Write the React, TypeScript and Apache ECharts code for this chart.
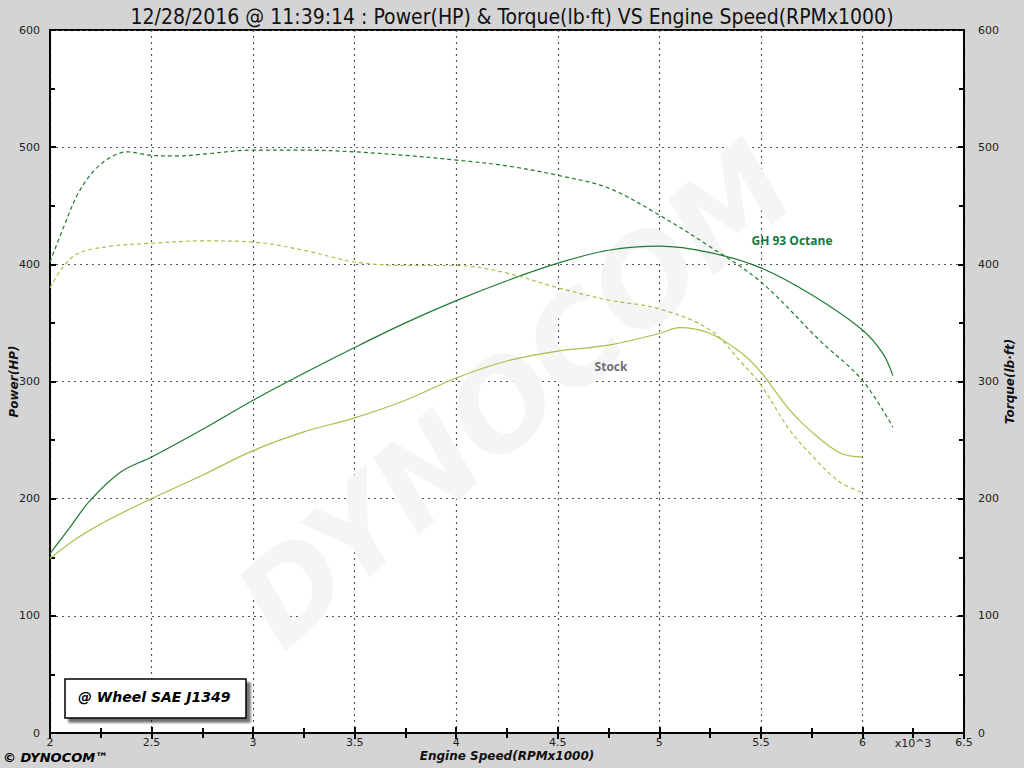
import React, { useEffect, useRef } from "react";
import * as echarts from "echarts";

const TITLE = "12/28/2016 @ 11:39:14 : Power(HP) & Torque(lb·ft) VS Engine Speed(RPMx1000)";
const X_NAME = "Engine Speed(RPMx1000)";
const Y_LEFT_NAME = "Power(HP)";
const Y_RIGHT_NAME = "Torque(lb·ft)";

const ghPowerRpm = [2.0, 2.1, 2.2, 2.35, 2.5, 2.75, 3.0, 3.25, 3.5, 3.75, 4.0, 4.25, 4.5, 4.75, 5.0, 5.25, 5.5, 5.75, 6.0, 6.1, 6.15];
const ghPower = [153, 176, 199, 223, 235.5, 259, 284, 307, 329, 350, 369, 386, 401, 412, 415.5, 410, 397, 374, 344, 324, 305];

const ghTorqueRpm = [2.0, 2.07, 2.14, 2.22, 2.3, 2.38, 2.5, 2.63, 2.75, 3.0, 3.25, 3.5, 3.75, 4.0, 4.25, 4.5, 4.75, 5.0, 5.25, 5.5, 5.79, 6.0, 6.15];
const ghTorque = [402, 433, 461, 480.5, 491.5, 496, 493, 492.5, 494, 497.5, 497.5, 496, 493, 489, 484, 476, 465, 442, 415, 385, 335, 301, 261];

const stockPowerRpm = [2.0, 2.14, 2.3, 2.5, 2.75, 3.0, 3.25, 3.5, 3.75, 4.0, 4.25, 4.5, 4.75, 5.0, 5.1, 5.25, 5.4, 5.5, 5.64, 5.75, 5.89, 6.0];
const stockPower = [149, 167, 183, 200, 220, 241, 257, 269, 284, 303, 317.5, 326, 331, 341, 346, 341, 325, 308, 276, 257, 239, 235.5];

const stockTorqueRpm = [2.0, 2.07, 2.14, 2.3, 2.5, 2.75, 3.0, 3.25, 3.5, 3.75, 4.0, 4.25, 4.5, 4.75, 5.0, 5.25, 5.4, 5.5, 5.64, 5.75, 5.89, 6.0];
const stockTorque = [380, 399, 409.5, 415.5, 418, 420, 419, 412, 402, 399, 399, 392.5, 380, 369.5, 362, 344, 317, 297, 259, 237, 214, 205.5];

const RUN_LABELS = ["GH 93 Octane", "Stock"];
const LEGEND_TEXT = "@ Wheel SAE J1349";

const GH_COLOR = "#1e7a32";
const STOCK_COLOR = "#a3c24a";

const zip = (xs: number[], ys: number[]) => xs.map((x, i) => [x, ys[i]]);

export default function App() {
  const ref = useRef<HTMLDivElement>(null);
  useEffect(() => {
    document.body.style.margin = "0";
    const chart = echarts.init(ref.current!, undefined, { renderer: "svg" });
    const tickFont = { fontFamily: "DejaVu Sans", fontSize: 11, color: "#222" };
    const nameFont = { fontFamily: "DejaVu Sans", fontSize: 12, fontWeight: "bold", fontStyle: "italic", color: "#111" };
    const axisLine = { show: true, lineStyle: { color: "#000", width: 2 } };
    const axisTick = { show: true, inside: true, length: 6, lineStyle: { color: "#000", width: 2 } };
    const minorTick = { show: true, splitNumber: 2, length: 5, lineStyle: { color: "#000", width: 2 } };
    const dotted = { show: true, lineStyle: { color: "#555", type: [2, 4], width: 1.2 } };

    chart.setOption({
      animation: false,
      backgroundColor: "#d4d4d4",
      title: {
        text: TITLE,
        left: "center",
        top: 1,
        textStyle: { fontFamily: "DejaVu Sans Condensed", fontSize: 21, fontWeight: "normal", color: "#111" },
      },
      grid: {
        left: 50, right: 60, top: 30, bottom: 35, containLabel: false, outerBoundsMode: "none",
        show: true, backgroundColor: "#fff", borderColor: "#000", borderWidth: 2,
      },
      xAxis: [
        {
          type: "value", min: 2, max: 6.5, interval: 0.5, position: "bottom",
          name: X_NAME, nameLocation: "middle", nameGap: 17, nameMoveOverlap: false, nameTextStyle: nameFont,
          axisLine, axisTick, minorTick, splitLine: dotted,
          axisLabel: { ...tickFont, margin: 4, formatter: (v: number) => String(v) },
        },
        {
          type: "value", min: 2, max: 6.5, interval: 0.5, position: "top",
          axisLine, axisTick, minorTick, splitLine: { show: false },
          axisLabel: { show: false },
        },
      ],
      yAxis: [
        {
          type: "value", min: 0, max: 600, interval: 100, position: "left",
          name: Y_LEFT_NAME, nameLocation: "middle", nameGap: 30, nameMoveOverlap: false, nameTextStyle: nameFont,
          axisLine, axisTick, minorTick, splitLine: dotted,
          axisLabel: { ...tickFont, margin: 10 },
        },
        {
          type: "value", min: 0, max: 600, interval: 100, position: "right",
          name: Y_RIGHT_NAME, nameLocation: "middle", nameGap: 40, nameRotate: 90, nameMoveOverlap: false, nameTextStyle: nameFont,
          axisLine, axisTick, minorTick, splitLine: { show: false },
          axisLabel: { ...tickFont, margin: 14 },
        },
      ],
      graphic: [
        {
          type: "text", x: 515, y: 395, rotation: 0.72, z: 1, silent: true,
          style: {
            text: "DYNOCOM", fill: "#f5f5f5", font: "italic bold 120px 'DejaVu Sans'",
            align: "center", verticalAlign: "middle",
          },
        },
        {
          type: "text", x: 913, y: 743, z: 10,
          style: { text: "x10^3", fill: "#222", font: "11px 'DejaVu Sans'", align: "center", verticalAlign: "middle" },
        },
        {
          type: "text", x: 792, y: 240, z: 10,
          style: { text: RUN_LABELS[0], fill: "#0f7a3e", font: "bold 12px 'Open Sans'", align: "center", verticalAlign: "middle" },
        },
        {
          type: "text", x: 611, y: 366, z: 10,
          style: { text: RUN_LABELS[1], fill: "#6f6f6f", font: "bold 12px 'Open Sans'", align: "center", verticalAlign: "middle" },
        },
        {
          type: "rect", z: 10,
          shape: { x: 65, y: 679, width: 181, height: 39 },
          style: { fill: "#fff", stroke: "#000", lineWidth: 1.5, shadowBlur: 2, shadowOffsetX: 4, shadowOffsetY: 4, shadowColor: "rgba(0,0,0,0.55)" },
        },
        {
          type: "text", x: 78, y: 697, z: 11,
          style: { text: LEGEND_TEXT, fill: "#000", font: "italic bold 14px 'DejaVu Sans'", verticalAlign: "middle" },
        },
        {
          type: "text", x: 3, y: 757, z: 11,
          style: { text: "© DYNOCOM™", fill: "#000", font: "italic bold 13px 'DejaVu Sans'", verticalAlign: "middle" },
        },
      ],
      series: [
        {
          name: "GH Power", type: "line", xAxisIndex: 0, yAxisIndex: 0, smooth: 0.35, symbol: "none",
          data: zip(ghPowerRpm, ghPower), lineStyle: { color: GH_COLOR, width: 1.2 }, z: 5,
        },
        {
          name: "GH Torque", type: "line", xAxisIndex: 0, yAxisIndex: 1, smooth: 0.35, symbol: "none",
          data: zip(ghTorqueRpm, ghTorque), lineStyle: { color: GH_COLOR, width: 1.2, type: [4, 3] }, z: 5,
        },
        {
          name: "Stock Power", type: "line", xAxisIndex: 0, yAxisIndex: 0, smooth: 0.35, symbol: "none",
          data: zip(stockPowerRpm, stockPower), lineStyle: { color: STOCK_COLOR, width: 1.2 }, z: 5,
        },
        {
          name: "Stock Torque", type: "line", xAxisIndex: 0, yAxisIndex: 1, smooth: 0.35, symbol: "none",
          data: zip(stockTorqueRpm, stockTorque), lineStyle: { color: STOCK_COLOR, width: 1.2, type: [4, 3] }, z: 5,
        },
      ],
    });
    return () => chart.dispose();
  }, []);
  return <div ref={ref} style={{ width: 1024, height: 768 }} />;
}
